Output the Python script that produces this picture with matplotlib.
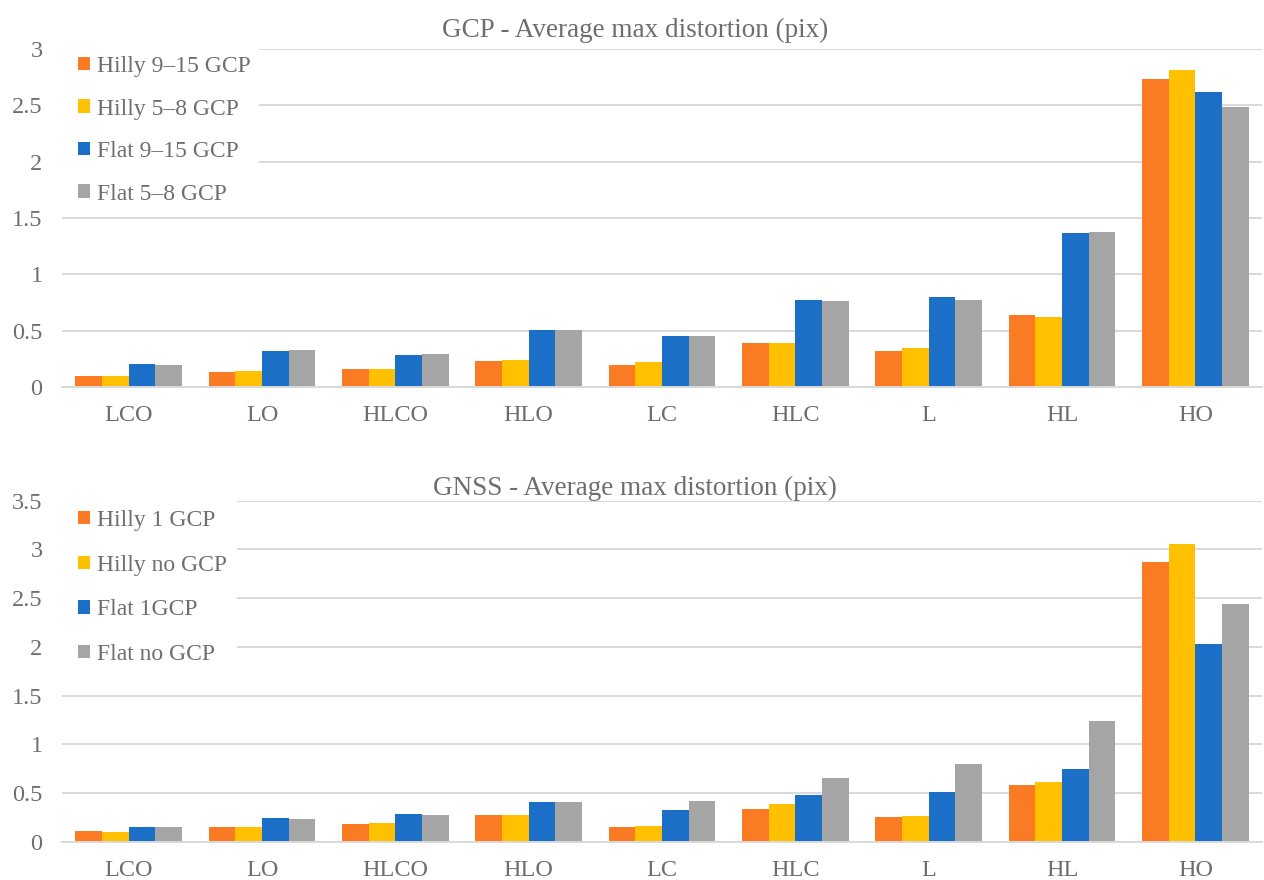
import numpy as np
import matplotlib
matplotlib.use('Agg')
import matplotlib.pyplot as plt
from matplotlib.patches import Patch, Rectangle

plt.rcParams['font.family'] = ['Liberation Serif', 'DejaVu Serif']

categories = ['LCO', 'LO', 'HLCO', 'HLO', 'LC', 'HLC', 'L', 'HL', 'HO']

# GCP chart
gcp_labels = ['Hilly 9\u201315 GCP', 'Hilly 5\u20138 GCP', 'Flat 9\u201315 GCP', 'Flat 5\u20138 GCP']
gcp_hilly_9_15 = [0.095, 0.136, 0.16, 0.233, 0.198, 0.39, 0.322, 0.639, 2.73]
gcp_hilly_5_8 = [0.095, 0.14, 0.16, 0.24, 0.222, 0.39, 0.346, 0.618, 2.815]
gcp_flat_9_15 = [0.204, 0.322, 0.28, 0.506, 0.456, 0.775, 0.799, 1.367, 2.615]
gcp_flat_5_8 = [0.195, 0.325, 0.295, 0.51, 0.456, 0.766, 0.769, 1.379, 2.485]

# GNSS chart
gnss_labels = ['Hilly 1 GCP', 'Hilly no GCP', 'Flat 1GCP', 'Flat no GCP']
gnss_hilly_1 = [0.115, 0.156, 0.187, 0.272, 0.154, 0.342, 0.26, 0.58, 2.87]
gnss_hilly_no = [0.105, 0.156, 0.19, 0.272, 0.16, 0.386, 0.27, 0.612, 3.054]
gnss_flat_1 = [0.156, 0.242, 0.289, 0.415, 0.325, 0.482, 0.513, 0.746, 2.03]
gnss_flat_no = [0.156, 0.235, 0.28, 0.415, 0.424, 0.66, 0.797, 1.238, 2.44]

colors = ['#FB7B24', '#FFC000', '#1C6FC7', '#A5A5A5']
text_color = '#6E6E6E'
grid_color = '#D9D9D9'

W, H = 1264, 880
fig = plt.figure(figsize=(W / 100, H / 100), dpi=100)


def draw(rect, series, labels, ymax, title, title_y, leg_top, leg_space, box):
    ax = fig.add_axes(rect)
    x = np.arange(len(categories))
    width = 0.2
    offsets = [-0.3, -0.1, 0.1, 0.3]
    for vals, off, c in zip(series, offsets, colors):
        ax.bar(x + off, vals, width, color=c, zorder=2, linewidth=0)
    ax.set_xlim(-0.5, len(categories) - 0.5)
    ax.set_ylim(0, ymax)
    ticks = np.arange(0, ymax + 0.01, 0.5)
    ax.set_yticks(ticks)
    ax.set_yticklabels(['%g' % v for v in ticks])
    ax.set_xticks(x)
    ax.set_xticklabels(categories)
    ax.tick_params(axis='both', length=0, labelsize=17.5, colors=text_color)
    ax.tick_params(axis='x', pad=13)
    ax.tick_params(axis='y', pad=14)
    ax.grid(axis='y', color=grid_color, linewidth=1.4, zorder=0)
    for s in ['top', 'right', 'left']:
        ax.spines[s].set_visible(False)
    ax.spines['bottom'].set_color(grid_color)
    ax.spines['bottom'].set_linewidth(1.4)
    ax.set_axisbelow(True)

    # white legend area hiding the gridlines
    x0, y0, x1, y1 = box
    ax.add_patch(Rectangle((x0 / W, 1 - y1 / H), (x1 - x0) / W, (y1 - y0) / H,
                           transform=fig.transFigure, facecolor='white',
                           edgecolor='none', zorder=1, clip_on=False))

    handles = [Patch(facecolor=c, edgecolor='none') for c in colors]
    leg = ax.legend(handles, labels, loc='upper left',
                    bbox_to_anchor=(71 / W, 1 - leg_top / H),
                    bbox_transform=fig.transFigure,
                    fontsize=17, frameon=False,
                    handlelength=0.5, handleheight=0.5,
                    handletextpad=0.3, labelspacing=leg_space,
                    borderpad=0.3, borderaxespad=0)
    leg.set_zorder(5)
    for t in leg.get_texts():
        t.set_color(text_color)

    fig.text(635 / W, 1 - title_y / H, title, ha='center', va='center',
             fontsize=19.5, color=text_color)
    return ax


draw([62 / W, 1 - 387 / H, 1200 / W, 338 / H],
     [gcp_hilly_9_15, gcp_hilly_5_8, gcp_flat_9_15, gcp_flat_5_8],
     gcp_labels, 3.0, 'GCP - Average max distortion (pix)', 30, 49, 0.91,
     (62, 44, 259, 205))

draw([62 / W, 1 - 842 / H, 1200 / W, 341.3 / H],
     [gnss_hilly_1, gnss_hilly_no, gnss_flat_1, gnss_flat_no],
     gnss_labels, 3.5, 'GNSS - Average max distortion (pix)', 488, 503, 1.0,
     (62, 495, 237, 672))

fig.savefig('out.png', dpi=100)
